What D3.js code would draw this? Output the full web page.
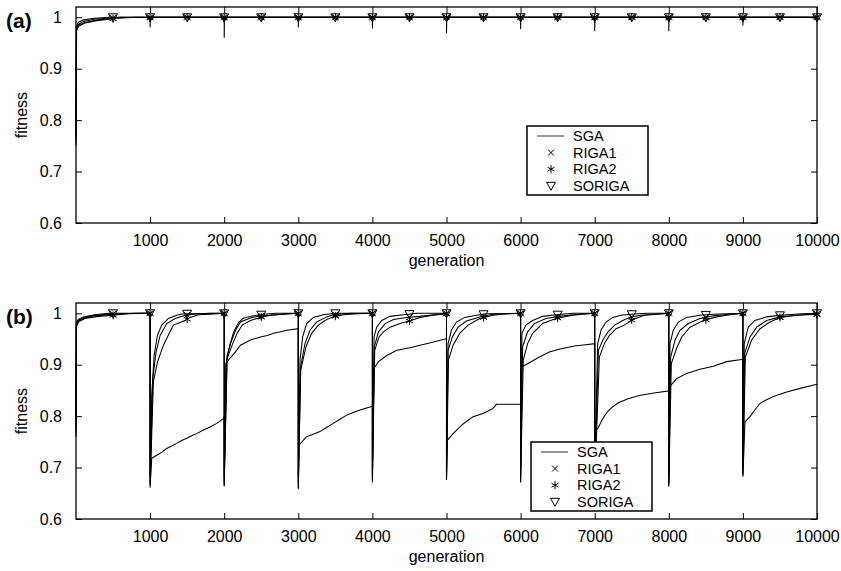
<!DOCTYPE html>
<html>
<head>
<meta charset="utf-8">
<script src="https://cdn.jsdelivr.net/npm/d3@7"></script>
<style>
  html, body { margin: 0; padding: 0; background: #fff; }
  svg { display: block; font-family: "Liberation Sans", Arial, Helvetica, sans-serif; }
</style>
</head>
<body>
<svg id="chart" width="841" height="571"></svg>
<script>
// ---- tick values / labels ----
const xTicks = [1000, 2000, 3000, 4000, 5000, 6000, 7000, 8000, 9000, 10000];
const yTicks = [0.6, 0.7, 0.8, 0.9, 1];
const seriesNames = ["SGA", "RIGA1", "RIGA2", "SORIGA"];
const markerGens = [500, 1000, 1500, 2000, 2500, 3000, 3500, 4000, 4500, 5000,
                    5500, 6000, 6500, 7000, 7500, 8000, 8500, 9000, 9500, 10000];

// ---- panel (a): best fitness per generation, [generation, fitness] ----
const sgaA = [[0,0.75],[8,0.975],[40,0.985],[120,0.99],[300,0.995],[600,1.0],[1000,1.0],
  [1000,0.98],[1004,1.0],[2000,1.0],[2000,0.96],[2004,1.0],[3000,1.0],[3000,0.98],[3004,1.0],
  [4000,1.0],[4000,0.978],[4004,1.0],[5000,1.0],[5000,0.969],[5004,1.0],[6000,1.0],[6000,0.977],[6004,1.0],
  [7000,1.0],[7000,0.973],[7004,1.0],[8000,1.0],[8000,0.973],[8004,1.0],[9000,1.0],[9000,0.984],[9004,1.0],[10000,1.0]];
const riga1A = [[0,0.77],[5,0.978],[30,0.986],[100,0.992],[250,0.996],[500,0.999],[1000,1.0],
  [1000,0.992],[1003,1.0],[2000,1.0],[2000,0.99],[2003,1.0],[3000,1.0],[3000,0.993],[3003,1.0],
  [4000,1.0],[4000,0.992],[4003,1.0],[5000,1.0],[5000,0.99],[5003,1.0],[6000,1.0],[6000,0.991],[6003,1.0],
  [7000,1.0],[7000,0.99],[7003,1.0],[8000,1.0],[8000,0.991],[8003,1.0],[9000,1.0],[9000,0.993],[9003,1.0],[10000,1.0]];
const riga2A = [[0,0.76],[6,0.975],[40,0.983],[120,0.989],[300,0.994],[550,0.998],[800,1.0],[1000,1.0],
  [1000,0.993],[1003,1.0],[2000,1.0],[2000,0.991],[2003,1.0],[3000,1.0],[3000,0.992],[3003,1.0],
  [4000,1.0],[4000,0.993],[4003,1.0],[5000,1.0],[5000,0.991],[5003,1.0],[6000,1.0],[6000,0.992],[6003,1.0],
  [7000,1.0],[7000,0.991],[7003,1.0],[8000,1.0],[8000,0.992],[8003,1.0],[9000,1.0],[9000,0.994],[9003,1.0],[10000,1.0]];
const sorigaA = [[0,0.78],[4,0.982],[30,0.99],[100,0.995],[250,0.998],[450,1.0],[1000,1.0],
  [1000,0.995],[1002,1.0],[2000,1.0],[2000,0.994],[2002,1.0],[3000,1.0],[3000,0.995],[3002,1.0],
  [4000,1.0],[4000,0.995],[4002,1.0],[5000,1.0],[5000,0.994],[5002,1.0],[6000,1.0],[6000,0.995],[6002,1.0],
  [7000,1.0],[7000,0.994],[7002,1.0],[8000,1.0],[8000,0.995],[8002,1.0],[9000,1.0],[9000,0.996],[9002,1.0],[10000,1.0]];

// ---- panel (b): best fitness per generation, [generation, fitness] ----
const sgaB = [[0,0.80],[5,0.975],[30,0.985],[100,0.99],[250,0.995],[500,0.998],[800,1.0],[1000,1.0],
  [1000,0.661],[1022,0.718],[1090,0.724],[1160,0.730],[1224,0.737],[1290,0.742],[1359,0.747],[1420,0.752],
  [1494,0.757],[1560,0.762],[1629,0.766],[1720,0.773],[1809,0.779],[1900,0.786],[1989,0.795],[2000,0.80],
  [2000,0.663],[2021,0.902],[2075,0.912],[2152,0.925],[2219,0.938],[2354,0.948],[2489,0.954],[2580,0.957],
  [2669,0.961],[2760,0.964],[2849,0.967],[3000,0.970],
  [3000,0.658],[3010,0.744],[3113,0.760],[3200,0.765],[3293,0.770],[3380,0.778],[3473,0.786],[3560,0.794],
  [3653,0.802],[3740,0.807],[3833,0.812],[3968,0.818],[4000,0.820],
  [4000,0.671],[4022,0.893],[4082,0.906],[4194,0.918],[4329,0.928],[4509,0.933],[4644,0.938],[4824,0.944],
  [4982,0.950],[5000,0.951],
  [5000,0.676],[5012,0.753],[5089,0.766],[5201,0.782],[5280,0.791],[5359,0.799],[5494,0.805],[5629,0.815],
  [5674,0.823],[6000,0.823],
  [6000,0.671],[6014,0.896],[6095,0.902],[6252,0.915],[6397,0.925],[6520,0.930],[6612,0.933],[6747,0.937],
  [6880,0.939],[7000,0.941],
  [7000,0.665],[7005,0.770],[7050,0.778],[7090,0.790],[7130,0.800],[7180,0.810],[7240,0.818],[7320,0.826],
  [7450,0.834],[7600,0.840],[7800,0.845],[8000,0.849],
  [8000,0.663],[8016,0.858],[8106,0.873],[8241,0.883],[8421,0.891],[8601,0.897],[8781,0.906],[8983,0.910],[9000,0.911],
  [9000,0.682],[9028,0.789],[9096,0.799],[9160,0.812],[9231,0.825],[9320,0.832],[9411,0.838],[9591,0.847],
  [9771,0.854],[10000,0.862]];
const riga1B = [[0,0.77],[5,0.978],[30,0.986],[100,0.992],[250,0.996],[500,0.999],[1000,1.0],
  [1000,0.67],[1036,0.873],[1081,0.925],[1135,0.957],[1224,0.980],[1337,0.990],[1472,0.996],[1584,0.998],[1800,1.0],[2000,1.0],
  [2000,0.67],[2039,0.918],[2093,0.944],[2152,0.967],[2219,0.983],[2354,0.991],[2489,0.995],[2714,0.997],[2900,0.999],[3000,1.0],
  [3000,0.67],[3032,0.896],[3090,0.941],[3158,0.967],[3248,0.983],[3383,0.993],[3473,0.997],[3700,1.0],[4000,1.0],
  [4000,0.68],[4027,0.935],[4082,0.964],[4172,0.980],[4284,0.988],[4463,0.992],[4640,0.994],[4820,0.997],[5000,1.0],
  [5000,0.68],[5021,0.928],[5080,0.954],[5156,0.973],[5269,0.985],[5449,0.993],[5630,0.998],[6000,1.0],
  [6000,0.68],[6027,0.935],[6095,0.964],[6185,0.980],[6342,0.990],[6520,0.994],[6700,0.997],[7000,1.0],
  [7000,0.67],[7050,0.928],[7110,0.948],[7180,0.964],[7270,0.977],[7378,0.986],[7490,0.993],[7620,0.996],[8000,1.0],
  [8000,0.67],[8025,0.915],[8085,0.948],[8150,0.967],[8264,0.980],[8421,0.990],[8601,0.995],[8800,0.998],[9000,1.0],
  [9000,0.69],[9024,0.922],[9096,0.954],[9186,0.973],[9320,0.986],[9500,0.993],[9724,0.996],[10000,0.999]];
const riga2B = [[0,0.76],[6,0.975],[40,0.984],[120,0.99],[300,0.994],[500,0.996],[700,0.999],[1000,1.0],
  [1000,0.665],[1045,0.867],[1099,0.905],[1180,0.938],[1269,0.964],[1314,0.977],[1404,0.982],[1472,0.986],
  [1539,0.992],[1652,0.997],[1809,0.998],[2000,1.0],
  [2000,0.665],[2039,0.912],[2107,0.938],[2174,0.961],[2242,0.977],[2354,0.986],[2489,0.992],[2624,0.996],[2850,0.999],[3000,1.0],
  [3000,0.66],[3032,0.889],[3104,0.935],[3180,0.961],[3270,0.977],[3383,0.988],[3495,0.994],[3608,0.997],[3800,0.999],[4000,1.0],
  [4000,0.675],[4031,0.928],[4090,0.954],[4149,0.964],[4238,0.973],[4373,0.980],[4499,0.985],[4643,0.992],[4823,0.996],[5000,0.999],
  [5000,0.677],[5026,0.909],[5089,0.938],[5179,0.961],[5291,0.977],[5449,0.990],[5629,0.996],[5809,0.999],[6000,1.0],
  [6000,0.672],[6036,0.909],[6095,0.941],[6162,0.961],[6297,0.980],[6477,0.990],[6702,0.996],[6900,0.999],[7000,1.0],
  [7000,0.665],[7063,0.915],[7130,0.941],[7200,0.957],[7288,0.970],[7400,0.977],[7513,0.988],[7670,0.996],[8000,1.0],
  [8000,0.665],[8034,0.902],[8106,0.932],[8174,0.954],[8286,0.973],[8466,0.986],[8646,0.993],[8826,0.997],[9000,1.0],
  [9000,0.685],[9033,0.915],[9118,0.948],[9231,0.970],[9365,0.983],[9500,0.992],[9724,0.996],[10000,0.998]];
const sorigaB = [[0,0.78],[4,0.98],[30,0.988],[100,0.993],[250,0.997],[450,1.0],[1000,1.0],
  [1000,0.68],[1022,0.841],[1054,0.918],[1099,0.957],[1157,0.977],[1247,0.990],[1359,0.996],[1449,0.999],[2000,1.0],
  [2000,0.68],[2030,0.906],[2075,0.938],[2129,0.964],[2197,0.983],[2264,0.991],[2399,0.995],[2534,0.998],[2700,1.0],[3000,1.0],
  [3000,0.68],[3023,0.909],[3059,0.954],[3113,0.980],[3203,0.992],[3338,0.997],[3500,1.0],[4000,1.0],
  [4000,0.69],[4022,0.954],[4058,0.973],[4126,0.986],[4238,0.994],[4418,0.997],[4600,1.0],[5000,1.0],
  [5000,0.69],[5021,0.941],[5066,0.967],[5134,0.983],[5246,0.992],[5404,0.996],[5539,0.999],[6000,1.0],
  [6000,0.69],[6018,0.961],[6072,0.977],[6162,0.986],[6297,0.994],[6477,0.997],[6700,1.0],[7000,1.0],
  [7000,0.68],[7040,0.941],[7085,0.967],[7153,0.983],[7243,0.992],[7355,0.996],[7490,0.998],[7700,1.0],[8000,1.0],
  [8000,0.68],[8016,0.941],[8061,0.967],[8129,0.983],[8241,0.992],[8421,0.996],[8601,0.998],[9000,1.0],
  [9000,0.70],[9018,0.941],[9072,0.973],[9162,0.986],[9320,0.993],[9500,0.996],[9800,0.999],[10000,1.0]];

// ---- layout ----
const panels = [
  { tag: "(a)", top: 7,   bottom: 223, series: [sgaA, riga1A, riga2A, sorigaA],
    legend: { x: 527, y: 126 } },
  { tag: "(b)", top: 303, bottom: 519, series: [sgaB, riga1B, riga2B, sorigaB],
    legend: { x: 531, y: 442 } }
];
const left = 76, right = 817, tickLen = 6;
const ink = "#000";

const svg = d3.select("#chart");
const x = d3.scaleLinear().domain([0, 10000]).range([left, right]);

// fitness at a generation; at a change point the pre-change value is used
function valueAt(pts, g) {
  for (let i = 0; i < pts.length; i++) {
    if (pts[i][0] === g) return pts[i][1];
    if (pts[i][0] > g) {
      const a = pts[i - 1], b = pts[i];
      return a[1] + (b[1] - a[1]) * (g - a[0]) / (b[0] - a[0]);
    }
  }
  return pts[pts.length - 1][1];
}

// marker glyphs for RIGA1 (x), RIGA2 (*), SORIGA (open down-triangle)
const glyphs = {
  RIGA1: "M-3,-3L3,3M-3,3L3,-3",
  RIGA2: "M0,-4L0,4M-3.5,-2L3.5,2M-3.5,2L3.5,-2",
  SORIGA: "M-4.5,-3.5L4.5,-3.5L0,4.5Z"
};

panels.forEach(p => {
  const y = d3.scaleLinear().domain([0.6, 1.02]).range([p.bottom, p.top]);
  const g = svg.append("g");

  // data lines
  const line = d3.line().x(d => x(d[0])).y(d => y(d[1]));
  p.series.forEach(s => {
    g.append("path").datum(s)
      .attr("d", line)
      .attr("fill", "none")
      .attr("stroke", ink)
      .attr("stroke-width", 1.05);
  });

  // point markers every 500 generations
  [1, 2, 3].forEach(i => {
    const name = seriesNames[i];
    g.append("g").selectAll("path").data(markerGens).join("path")
      .attr("transform", d => `translate(${x(d)},${y(valueAt(p.series[i], d))})`)
      .attr("d", glyphs[name])
      .attr("fill", "none")
      .attr("stroke", ink)
      .attr("stroke-width", 1);
  });

  // bottom axis with inward ticks, mirrored on top
  const xAxis = d3.axisBottom(x).tickValues(xTicks).tickSize(-tickLen).tickPadding(12).tickFormat(d3.format("d"));
  const gx = g.append("g").attr("transform", `translate(0,${p.bottom})`).call(xAxis);
  gx.select(".domain").remove();
  const gxTop = g.append("g").attr("transform", `translate(0,${p.top})`)
    .call(d3.axisTop(x).tickValues(xTicks).tickSize(-tickLen).tickFormat(""));
  gxTop.select(".domain").remove();

  // left axis with inward ticks, mirrored on right
  const yAxis = d3.axisLeft(y).tickValues(yTicks).tickSize(-tickLen).tickPadding(14)
    .tickFormat(d => d === 1 ? "1" : d3.format(".1f")(d));
  const gy = g.append("g").attr("transform", `translate(${left},0)`).call(yAxis);
  gy.select(".domain").remove();
  const gyR = g.append("g").attr("transform", `translate(${right},0)`)
    .call(d3.axisRight(y).tickValues(yTicks).tickSize(-tickLen).tickFormat(""));
  gyR.select(".domain").remove();

  g.selectAll(".tick line").attr("stroke", ink).attr("stroke-width", 1);
  g.selectAll(".tick text").attr("fill", ink).attr("font-size", 16)
    .attr("font-family", "'Liberation Sans', Arial, sans-serif");

  // frame
  g.append("rect")
    .attr("x", left).attr("y", p.top)
    .attr("width", right - left).attr("height", p.bottom - p.top)
    .attr("fill", "none").attr("stroke", ink).attr("stroke-width", 1.3);

  // axis titles
  g.append("text").attr("x", (left + right) / 2).attr("y", p.bottom + 43)
    .attr("text-anchor", "middle").attr("font-size", 16).attr("fill", ink).text("generation");
  g.append("text")
    .attr("transform", `translate(27,${(p.top + p.bottom) / 2}) rotate(-90)`)
    .attr("text-anchor", "middle").attr("font-size", 16).attr("fill", ink).text("fitness");

  // panel tag
  g.append("text").attr("x", 6).attr("y", p.top + 21)
    .attr("font-size", 21).attr("font-weight", "bold").attr("fill", ink).text(p.tag);

  // legend
  const lg = g.append("g").attr("transform", `translate(${p.legend.x},${p.legend.y})`);
  lg.append("rect").attr("width", 121).attr("height", 69)
    .attr("fill", "#fff").attr("stroke", ink).attr("stroke-width", 1.5);
  seriesNames.forEach((name, i) => {
    const ry = 10 + i * 16.6;
    if (i === 0) {
      lg.append("line").attr("x1", 10).attr("x2", 37).attr("y1", ry).attr("y2", ry)
        .attr("stroke", "#555").attr("stroke-width", 1.2);
    } else {
      lg.append("path").attr("transform", `translate(24,${ry})`).attr("d", glyphs[name])
        .attr("fill", "none").attr("stroke", ink).attr("stroke-width", 1);
    }
    lg.append("text").attr("x", 46).attr("y", ry).attr("dy", "0.36em")
      .attr("font-size", 14.5).attr("fill", ink).text(name);
  });
});
</script>
</body>
</html>
